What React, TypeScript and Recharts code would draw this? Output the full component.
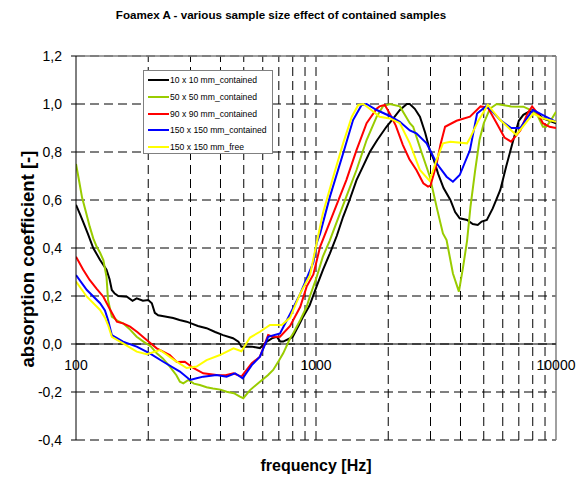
import { CartesianGrid, Legend, Line, LineChart, ReferenceDot, ReferenceLine, XAxis, YAxis } from "recharts"

const FONT = "'Liberation Sans', Arial, sans-serif"

// log grid: one vertical dashed line per minor step
const GRID_FREQS = [
  200, 300, 400, 500, 600, 700, 800, 900, 1000, 2000, 3000, 4000, 5000, 6000, 7000, 8000, 9000,
]
const DECADES = [100, 1000, 10000]
const Y_TICKS = [-0.4, -0.2, 0, 0.2, 0.4, 0.6, 0.8, 1.0, 1.2]

type Pt = [number, number] // [frequency Hz, absorption]

const s10: Pt[] = [
  [100, 0.58], [104, 0.54], [107, 0.51], [112, 0.46], [118, 0.4], [126, 0.35], [134, 0.31], [138, 0.27],
  [141, 0.225], [145, 0.21], [150, 0.2], [163, 0.197], [172, 0.18], [179, 0.19], [190, 0.18], [200, 0.183],
  [207, 0.17], [213, 0.13], [220, 0.12], [235, 0.115], [254, 0.108], [270, 0.1], [289, 0.093], [300, 0.087],
  [322, 0.075], [350, 0.066], [380, 0.05], [410, 0.037], [451, 0.024], [475, 0.01], [489, -0.011], [510, -0.01],
  [540, -0.011], [584, -0.017], [624, 0.01], [660, 0.025], [687, 0.03], [710, 0.01], [730, 0.01], [780, 0.024],
  [800, 0.03], [850, 0.08], [884, 0.114], [940, 0.16], [1006, 0.24], [1070, 0.31], [1143, 0.378], [1220, 0.45],
  [1297, 0.53], [1380, 0.6], [1475, 0.683], [1570, 0.74], [1675, 0.8], [1800, 0.85], [1966, 0.905], [2100, 0.94],
  [2236, 0.975], [2390, 1.0], [2458, 1.0], [2580, 0.98], [2710, 0.947], [2850, 0.88], [2975, 0.81], [3090, 0.77],
  [3226, 0.71], [3400, 0.65], [3630, 0.6], [3800, 0.55], [3970, 0.524], [4260, 0.517], [4500, 0.5], [4720, 0.496],
  [4900, 0.51], [5150, 0.517], [5450, 0.565], [5860, 0.642], [6200, 0.74], [6640, 0.85], [7000, 0.93],
  [7310, 0.955], [7950, 0.975], [8400, 0.96], [8820, 0.94], [9400, 0.93], [10000, 0.92],
]

const s50: Pt[] = [
  [100, 0.75], [103, 0.68], [106, 0.61], [110, 0.55], [114, 0.49], [118, 0.44], [122, 0.405], [126, 0.38],
  [130, 0.35], [134, 0.28], [136, 0.183], [141, 0.114], [150, 0.095], [157, 0.086], [168, 0.06], [179, 0.03],
  [191, 0.01], [205, -0.01], [217, -0.039], [230, -0.06], [246, -0.094], [262, -0.13], [271, -0.157], [280, -0.164],
  [294, -0.15], [310, -0.165], [328, -0.171], [350, -0.18], [372, -0.185], [400, -0.19], [424, -0.199],
  [455, -0.205], [482, -0.219], [498, -0.226], [531, -0.192], [584, -0.157], [630, -0.13], [663, -0.108],
  [700, -0.07], [730, -0.039], [780, 0.024], [803, 0.044], [860, 0.1], [914, 0.155], [944, 0.2], [1000, 0.27],
  [1068, 0.364], [1140, 0.43], [1214, 0.503], [1338, 0.614], [1475, 0.725], [1625, 0.85], [1790, 0.947],
  [1900, 0.99], [2030, 1.0], [2236, 0.99], [2460, 0.92], [2540, 0.905], [2750, 0.8], [2975, 0.7], [3200, 0.56],
  [3380, 0.461], [3500, 0.433], [3720, 0.294], [3940, 0.218], [4100, 0.32], [4260, 0.43], [4400, 0.57],
  [4600, 0.72], [4800, 0.85], [5000, 0.92], [5300, 0.98], [5660, 1.0], [6500, 0.99], [7310, 0.989],
  [8030, 0.97], [8300, 0.96], [8820, 0.905], [9100, 0.905], [9500, 0.93], [10000, 0.968],
]

const s90: Pt[] = [
  [100, 0.364], [107, 0.31], [114, 0.267], [122, 0.23], [130, 0.197], [139, 0.142], [148, 0.093], [158, 0.085],
  [168, 0.072], [180, 0.05], [197, 0.017], [217, -0.018], [246, -0.046], [263, -0.075], [284, -0.074],
  [308, -0.1], [339, -0.122], [385, -0.129], [420, -0.13], [453, -0.122], [489, -0.136], [540, -0.08],
  [584, -0.053], [632, 0.037], [660, 0.03], [708, 0.03], [780, 0.075], [860, 0.155], [914, 0.239], [975, 0.29],
  [1040, 0.405], [1180, 0.544], [1338, 0.683], [1475, 0.808], [1625, 0.92], [1790, 0.98], [1840, 0.99],
  [1935, 0.996], [2030, 0.96], [2150, 0.91], [2300, 0.83], [2450, 0.77], [2620, 0.725], [2800, 0.67],
  [2930, 0.656], [3000, 0.66], [3180, 0.75], [3300, 0.83], [3450, 0.905], [3850, 0.93], [4380, 0.947],
  [4850, 0.99], [5200, 0.985], [5660, 0.92], [6100, 0.86], [6500, 0.843], [7100, 0.89], [7600, 0.96],
  [7950, 0.99], [8400, 0.96], [8820, 0.92], [9400, 0.905], [10000, 0.9],
]

const s150: Pt[] = [
  [100, 0.287], [111, 0.225], [126, 0.17], [132, 0.14], [136, 0.1], [141, 0.0375], [157, 0.01], [179, -0.011],
  [203, -0.039], [231, -0.074], [271, -0.115], [299, -0.15], [318, -0.143], [339, -0.136], [385, -0.129],
  [424, -0.136], [460, -0.122], [495, -0.143], [540, -0.088], [584, -0.053], [632, 0.03], [708, 0.044],
  [780, 0.125], [860, 0.21], [920, 0.28], [975, 0.34], [1006, 0.42], [1040, 0.46], [1143, 0.614], [1297, 0.794],
  [1427, 0.933], [1549, 0.996], [1625, 1.0], [1790, 0.975], [2030, 0.95], [2236, 0.926], [2460, 0.89],
  [2620, 0.878], [2890, 0.836], [3180, 0.753], [3500, 0.697], [3720, 0.676], [3970, 0.704], [4380, 0.808],
  [4690, 0.96], [5100, 0.99], [5300, 0.98], [5860, 0.933], [6500, 0.9], [7100, 0.9], [7800, 0.96],
  [8030, 0.975], [8820, 0.954], [10000, 0.926],
]

const s150free: Pt[] = [
  [100, 0.26], [111, 0.197], [126, 0.142], [132, 0.11], [136, 0.079], [141, 0.03], [157, 0.003], [179, -0.032],
  [197, -0.043], [224, -0.025], [255, -0.065], [289, -0.1], [318, -0.094], [350, -0.067], [398, -0.046],
  [453, -0.018], [489, -0.03], [531, 0.027], [584, 0.051], [643, 0.079], [720, 0.079], [780, 0.11], [860, 0.211],
  [944, 0.287], [1006, 0.42], [1068, 0.544], [1180, 0.697], [1297, 0.836], [1410, 0.947], [1500, 0.996],
  [1575, 1.0], [1700, 0.975], [1840, 0.947], [2030, 0.94], [2236, 0.92], [2460, 0.836], [2710, 0.725],
  [2975, 0.68], [3180, 0.767], [3380, 0.836], [3630, 0.843], [4260, 0.836], [4380, 0.857], [4720, 0.926],
  [5200, 0.996], [5860, 0.933], [6830, 0.871], [8030, 0.96], [8820, 0.94], [10000, 0.926],
]

const SERIES = [
  { name: "10 x 10 mm_contained", color: "#000000", pts: s10 },
  { name: "50 x 50 mm_contained", color: "#99cc00", pts: s50 },
  { name: "90 x 90 mm_contained", color: "#ff0000", pts: s90 },
  { name: "150 x 150 mm_contained", color: "#0000ff", pts: s150 },
  { name: "150 x 150 mm_free", color: "#ffff00", pts: s150free },
]

const fmtY = (v: number) => v.toFixed(1).replace(".", ",")

function LegendBox() {
  return (
    <div
      style={{
        width: 130,
        height: 84,
        boxSizing: "border-box",
        border: "1.5px solid #808080",
        background: "#fff",
        padding: "1px 0 0 4px",
        fontFamily: FONT,
        fontSize: 8.6,
        color: "#000",
      }}
    >
      {SERIES.map((s) => (
        <div key={s.name} style={{ display: "flex", alignItems: "center", height: 16.7 }}>
          <span style={{ display: "inline-block", width: 21, height: 2, background: s.color, marginRight: 1 }} />
          <span style={{ whiteSpace: "nowrap" }}>{s.name}</span>
        </div>
      ))}
    </div>
  )
}

export default function App() {
  return (
    <div style={{ position: "absolute", left: 0, top: 0, width: 586, height: 480, background: "#fff" }}>
      <div
        style={{
          position: "absolute",
          left: 281,
          top: 9,
          transform: "translateX(-50%)",
          whiteSpace: "nowrap",
          fontFamily: FONT,
          fontWeight: "bold",
          fontSize: 11.6,
          lineHeight: 1,
        }}
      >
        Foamex A - various sample size effect of contained samples
      </div>
      <LineChart width={586} height={480} margin={{ top: 56, right: 30, bottom: 40, left: 0 }}>
        <CartesianGrid stroke="#000" strokeDasharray="9 5" vertical={false} />
        <XAxis
          dataKey="f"
          type="number"
          scale="log"
          domain={[100, 10000]}
          ticks={DECADES}
          allowDataOverflow
          height={0}
          axisLine={false}
          tickLine={false}
          tick={false}
        />
        <YAxis
          type="number"
          domain={[-0.4, 1.2]}
          ticks={Y_TICKS}
          width={76}
          tickFormatter={fmtY}
          axisLine={{ stroke: "#000" }}
          tickLine={{ stroke: "#000" }}
          tickSize={5}
          tickMargin={9}
          tick={{ fill: "#000", fontSize: 14, fontFamily: FONT }}
        />
        {GRID_FREQS.map((f) => (
          <ReferenceLine key={f} x={f} stroke="#000" strokeDasharray="9 5" />
        ))}
        <ReferenceLine y={1.2} stroke="#808080" strokeWidth={1.5} />
        <ReferenceLine x={10000} stroke="#808080" strokeWidth={1.5} />
        <ReferenceLine y={0} stroke="#000" strokeWidth={1} />
        {DECADES.map((f) => (
          <ReferenceDot
            key={f}
            x={f}
            y={0}
            r={0}
            fill="none"
            stroke="none"
            label={{ value: String(f), position: "bottom", offset: 16, fill: "#000", fontSize: 14, fontFamily: FONT }}
          />
        ))}
        {SERIES.map((s) => (
          <Line
            key={s.name}
            name={s.name}
            data={s.pts.map(([f, a]) => ({ f, a }))}
            dataKey="a"
            stroke={s.color}
            strokeWidth={2}
            dot={false}
            isAnimationActive={false}
          />
        ))}
        <Legend
          layout="vertical"
          align="center"
          verticalAlign="middle"
          content={() => <LegendBox />}
          wrapperStyle={{ position: "absolute", left: 143, top: 70, width: 130, height: 84, margin: 0 }}
        />
      </LineChart>
      <div
        style={{
          position: "absolute",
          left: 28,
          top: 259,
          transform: "translate(-50%, -50%) rotate(-90deg)",
          whiteSpace: "nowrap",
          fontFamily: FONT,
          fontWeight: "bold",
          fontSize: 18.5,
          lineHeight: 1,
        }}
      >
        absorption coefficient [-]
      </div>
      <div
        style={{
          position: "absolute",
          left: 316,
          top: 466,
          transform: "translate(-50%, -50%)",
          whiteSpace: "nowrap",
          fontFamily: FONT,
          fontWeight: "bold",
          fontSize: 16,
          lineHeight: 1,
        }}
      >
        frequency [Hz]
      </div>
    </div>
  )
}
